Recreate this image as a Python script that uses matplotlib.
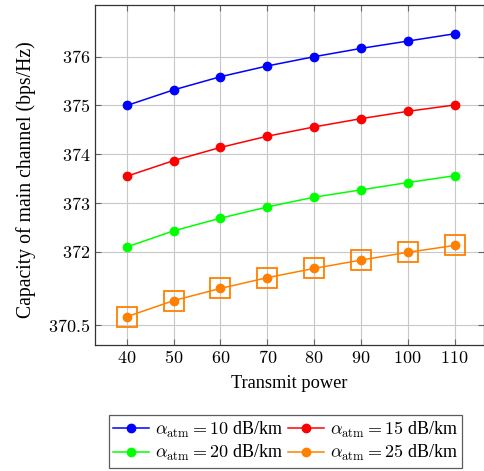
import matplotlib
matplotlib.use("Agg")
import matplotlib.pyplot as plt

plt.rcParams['font.family'] = ['Liberation Serif', 'DejaVu Serif']
plt.rcParams['mathtext.fontset'] = 'cm'

power = [40, 50, 60, 70, 80, 90, 100, 110]
cap_10 = [375.00, 375.32, 375.59, 375.81, 376.00, 376.17, 376.32, 376.47]
cap_15 = [373.55, 373.87, 374.14, 374.37, 374.56, 374.73, 374.88, 375.01]
cap_20 = [372.10, 372.43, 372.69, 372.92, 373.12, 373.27, 373.42, 373.56]
cap_25 = [370.67, 371.00, 371.25, 371.47, 371.66, 371.83, 371.99, 372.13]
labels = [r'$\alpha_{\rm atm} = 10$ dB/km', r'$\alpha_{\rm atm} = 15$ dB/km',
          r'$\alpha_{\rm atm} = 20$ dB/km', r'$\alpha_{\rm atm} = 25$ dB/km']
colors = ['#0000ff', '#ff0000', '#00ff00', '#ff8000']
yticks = [370.5, 372, 373, 374, 375, 376]
ytick_labels = ['370.5', '372', '373', '374', '375', '376']

fig = plt.figure(figsize=(4.85, 4.71), dpi=100)
ax = fig.add_axes([95/485, 1-345/471, (484-95)/485, 340/471])

handles = []
for ys, lab, c in zip([cap_10, cap_15, cap_20, cap_25], labels, colors):
    h, = ax.plot(power, ys, '-o', color=c, lw=1.1, ms=6, label=lab)
    handles.append(h)
ax.plot(power, cap_25, 's', ms=14, mfc='none', mec=colors[3], mew=1.3)

ax.set_xlim(33.2, 116.3)
ax.set_ylim(370.09, 377.06)
ax.set_xticks(power)
ax.set_xticklabels([f'${p}$' for p in power])
ax.set_yticks(yticks)
ax.set_yticklabels([f'${t}$' for t in ytick_labels])
ax.grid(True, color='#c8c8c8', lw=0.8)
ax.set_axisbelow(True)
ax.tick_params(direction='in', top=True, right=True, labelsize=13, color='#666666', length=4)
for s in ax.spines.values():
    s.set_color('#333333')
    s.set_linewidth(0.9)
ax.set_xlabel('Transmit power', fontsize=13.2, labelpad=6)
ax.set_ylabel('Capacity of main channel (bps/Hz)', fontsize=14.2)
ax.yaxis.set_label_coords(-0.152, 0.487)

order = [0, 2, 1, 3]
leg = ax.legend([handles[i] for i in order], [labels[i] for i in order],
                loc='upper center', bbox_to_anchor=(0.49, -0.18), ncol=2,
                fontsize=13, frameon=True, fancybox=False, edgecolor='#333333',
                handlelength=2.0, handletextpad=0.3, columnspacing=0.3,
                borderpad=0.25, labelspacing=0.2)
leg.get_frame().set_linewidth(0.9)

fig.savefig('out.png', dpi=100)
